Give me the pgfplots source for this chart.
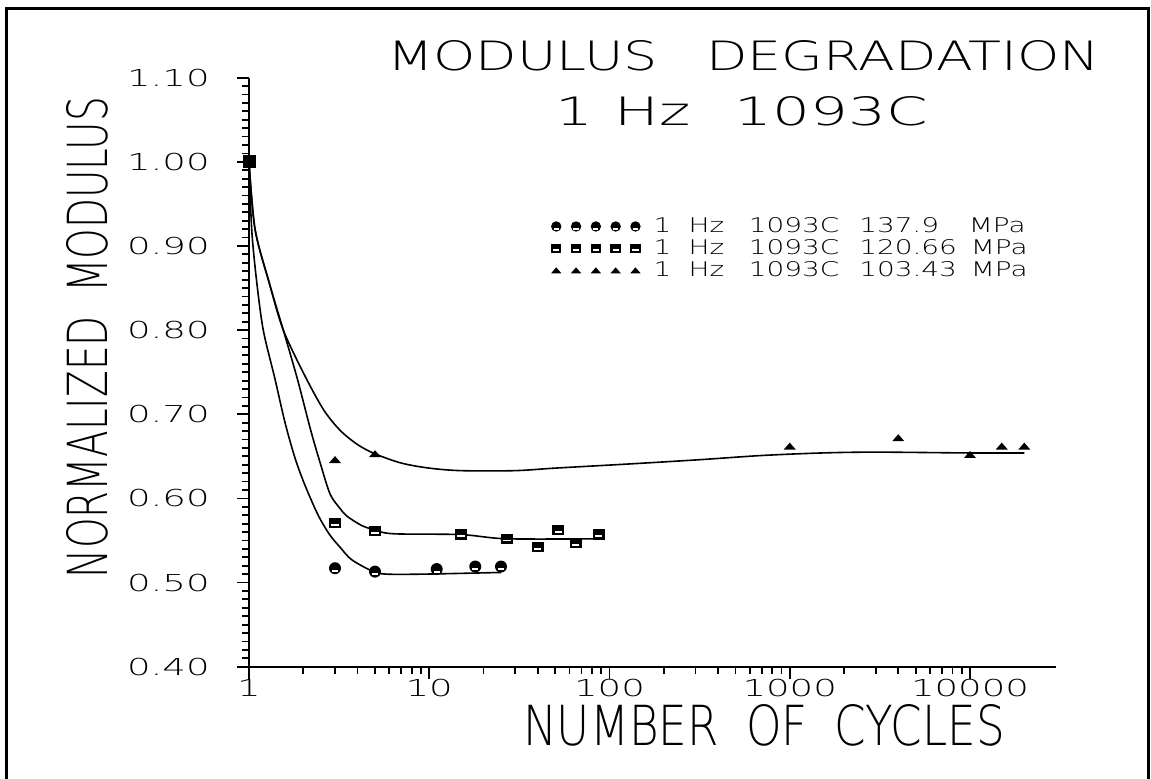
\documentclass[border=0pt]{standalone}
\usepackage{pgfplots}
\pgfplotsset{compat=1.18}
\usepackage{graphicx}
\usepackage{fontspec}
\setmainfont{DejaVu Sans ExtraLight}

\pgfdeclareplotmark{hcirc}{%
  \pgfpathcircle{\pgfpointorigin}{\pgfplotmarksize}\pgfusepathqfill
  \begin{pgfscope}\pgfsetfillcolor{white}%
  \pgfpathrectangle{\pgfqpoint{-0.5\pgfplotmarksize}{-0.6\pgfplotmarksize}}{\pgfqpoint{\pgfplotmarksize}{0.3\pgfplotmarksize}}\pgfusepathqfill
  \end{pgfscope}}
\pgfdeclareplotmark{hsq}{%
  \pgfpathrectangle{\pgfqpoint{-\pgfplotmarksize}{-0.85\pgfplotmarksize}}{\pgfqpoint{2\pgfplotmarksize}{1.7\pgfplotmarksize}}\pgfusepathqfill
  \begin{pgfscope}\pgfsetfillcolor{white}%
  \pgfpathrectangle{\pgfqpoint{-0.6\pgfplotmarksize}{-0.45\pgfplotmarksize}}{\pgfqpoint{1.2\pgfplotmarksize}{0.3\pgfplotmarksize}}\pgfusepathqfill
  \end{pgfscope}}
\pgfdeclareplotmark{htri}{%
  \pgfpathmoveto{\pgfqpoint{-\pgfplotmarksize}{-0.55\pgfplotmarksize}}%
  \pgfpathlineto{\pgfqpoint{\pgfplotmarksize}{-0.55\pgfplotmarksize}}%
  \pgfpathlineto{\pgfqpoint{0pt}{0.6\pgfplotmarksize}}%
  \pgfpathclose\pgfusepathqfill}

\newcommand{\tk}[1]{\scalebox{1.855}[1.166]{\fontsize{10pt}{10pt}\selectfont #1}}

\begin{document}
\begin{tikzpicture}[x=1pt,y=1pt]
\useasboundingbox (0,0) rectangle (575.5,389.5);
\draw[line width=1.5pt] (3,-5) -- (3,385.25) -- (574,385.25) -- (574,-5);
\begin{axis}[
  at={(124.5pt,56.15pt)}, anchor=south west,
  width=403.5pt, height=294.5pt, scale only axis,
  xmode=log, xmin=1, xmax=30000, ymin=0.4, ymax=1.1,
  clip=false,
  axis x line*=bottom, axis y line*=left,
  axis line style={line width=1pt,-},
  tick align=outside,
  major tick length=6pt, minor tick length=3.75pt,
  every tick/.style={black, line width=0.9pt},
  minor y tick num=9,
  ytick={0.4,0.5,0.6,0.7,0.8,0.9,1.0,1.1},
  yticklabels={\tk{0.40},\tk{0.50},\tk{0.60},\tk{0.70},\tk{0.80},\tk{0.90},\tk{1.00},\tk{1.10}},
  xtick={1,10,100,1000,10000},
  xticklabels={\tk{1},\tk{10},\tk{100},\tk{1000},\tk{10000}},
  yticklabel style={anchor=east, inner sep=0pt, xshift=-13.5pt},
  xticklabel style={anchor=north, inner sep=0pt, yshift=-0.2pt},
  title={\resizebox{356.5pt}{15pt}{MODULUS\hspace{0.9em}DEGRADATION}},
  title style={at={(axis description cs:0.6128,0.991)}, anchor=south, inner sep=0pt},
  xlabel={\resizebox{241pt}{20.5pt}{NUMBER\hspace{0.6em}OF\hspace{0.6em}CYCLES}},
  xlabel style={at={(axis description cs:0.6382,-0.0998)}, anchor=center, inner sep=0pt},
  ylabel={\resizebox{240.5pt}{20.5pt}{NORMALIZED\hspace{0.6em}MODULUS}},
  ylabel style={at={(axis description cs:-0.2001,0.5589)}, anchor=center, inner sep=0pt},
  legend style={at={(axis description cs:0.3743,0.7627)}, anchor=north west,
    draw=none, fill=none, inner sep=0pt, outer sep=0pt,
    row sep=2pt, column sep=0pt,
    nodes={inner sep=0pt, outer sep=0pt},
    /tikz/every odd column/.append style={column sep=6.5pt}},
  legend cell align=left,
  legend image code/.code={\draw[#1, mark size=2.6pt] plot coordinates {(0pt,0pt) (9.9pt,0pt) (19.8pt,0pt) (29.7pt,0pt) (39.6pt,0pt)};},
]
% fitted curves
\addplot[black, line width=0.8pt, smooth, forget plot] coordinates {
 (1,1.00) (1.035,0.92) (1.1,0.86) (1.2,0.80) (1.39,0.743) (1.585,0.690) (1.8,0.648)
 (2.05,0.615) (2.42,0.580) (2.8,0.557) (3.2,0.542) (3.72,0.527) (4.9,0.513)
 (5.8,0.510) (9.3,0.510) (25,0.512)};
\addplot[black, line width=0.8pt, smooth, forget plot] coordinates {
 (1,1.00) (1.08,0.92) (1.3,0.855) (1.55,0.80) (1.85,0.743) (2.2,0.681) (2.5,0.640)
 (2.82,0.605) (3.2,0.588) (3.49,0.579) (4.2,0.568) (4.9,0.563) (6.3,0.558)
 (15,0.557) (27,0.552) (90,0.552)};
\addplot[black, line width=0.8pt, smooth, forget plot] coordinates {
 (1,1.00) (1.08,0.92) (1.3,0.855) (1.55,0.80) (2.05,0.745) (2.6,0.705) (3.2,0.681)
 (4,0.664) (5,0.653) (7,0.642) (10,0.636) (15,0.633) (30,0.633) (50,0.636)
 (130,0.641) (316,0.646) (700,0.651) (1500,0.654) (3000,0.655) (10000,0.654) (20000,0.654)};
% data
\addplot[only marks, black, mark=square*, mark size=3pt, forget plot] coordinates {(1,1.00)};
\addplot[only marks, black, mark=hcirc, mark size=3pt]
  coordinates {(3,0.517) (5,0.513) (11,0.516) (18,0.519) (25,0.519)};
\addlegendentry{\resizebox{186pt}{7.5pt}{1\hspace{0.62em}Hz\hspace{0.88em}1093C\hspace{0.72em}137.9\hspace{1.07em}MPa}}
\addplot[only marks, black, mark=hsq, mark size=3pt]
  coordinates {(3,0.571) (5,0.561) (15,0.557) (27,0.552) (40,0.542) (52,0.562) (65,0.547) (87,0.557)};
\addlegendentry{\resizebox{187pt}{7.5pt}{1\hspace{0.62em}Hz\hspace{0.88em}1093C\hspace{0.72em}120.66\hspace{0.5em}MPa}}
\addplot[only marks, black, mark=htri, mark size=3pt]
  coordinates {(3,0.646) (5,0.653) (1000,0.662) (4000,0.672) (10000,0.652) (15000,0.662) (20000,0.662)};
\addlegendentry{\resizebox{187pt}{7.5pt}{1\hspace{0.62em}Hz\hspace{0.88em}1093C\hspace{0.72em}103.43\hspace{0.5em}MPa}}
\node[anchor=south, inner sep=0pt] at (axis description cs:0.6103,0.918)
  {\resizebox{186.5pt}{14.5pt}{1\hspace{0.37em}Hz\hspace{0.74em}1093C}};
\end{axis}
\end{tikzpicture}
\end{document}
